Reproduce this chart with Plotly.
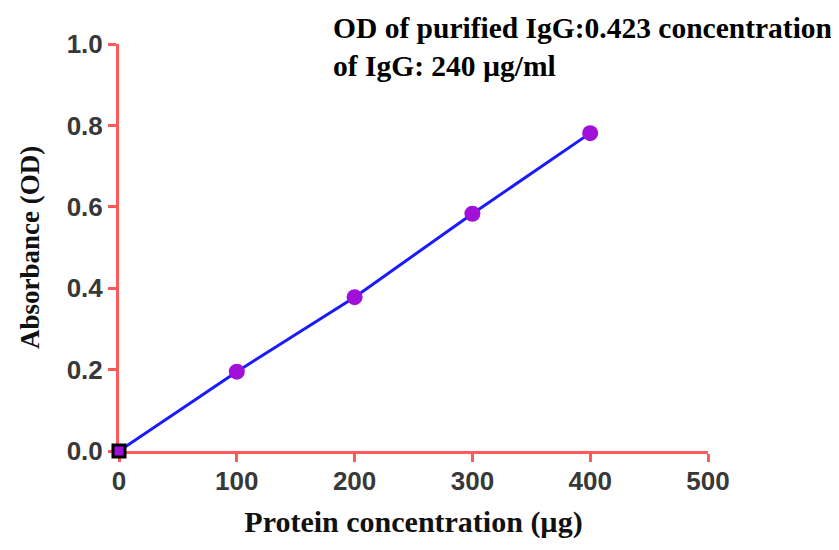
import plotly.graph_objects as go

protein_ug = [0, 100, 200, 300, 400]
absorbance = [0.0, 0.195, 0.378, 0.583, 0.781]
x_ticks = [0, 100, 200, 300, 400, 500]
y_ticks = [0.0, 0.2, 0.4, 0.6, 0.8, 1.0]
y_tick_text = ["0.0", "0.2", "0.4", "0.6", "0.8", "1.0"]

AXIS_RED = "#ff5a5a"
PLOT_W = 589
PLOT_H = 407
L, T = 111, 36

fig = go.Figure()
fig.add_trace(go.Scatter(
    x=protein_ug, y=absorbance, mode="lines",
    line=dict(color="#1a1aff", width=3),
    showlegend=False, cliponaxis=False,
))
fig.add_trace(go.Scatter(
    x=protein_ug[1:], y=absorbance[1:], mode="markers",
    marker=dict(color="#a010d8", size=16, line=dict(width=0)),
    showlegend=False, cliponaxis=False,
))
fig.add_trace(go.Scatter(
    x=protein_ug[:1], y=absorbance[:1], mode="markers",
    marker=dict(color="#a010d8", size=12, symbol="square",
                line=dict(color="black", width=3)),
    showlegend=False, cliponaxis=False,
))

fig.update_layout(
    width=839, height=550,
    margin=dict(l=L, r=839 - L - PLOT_W, t=T, b=550 - T - PLOT_H),
    paper_bgcolor="white", plot_bgcolor="white",
    font=dict(family="Liberation Sans, Arial", color="#333333"),
    annotations=[dict(
        xref="paper", yref="paper", x=(333 - 7 - 3 - L) / PLOT_W, y=1 + (T - 2) / PLOT_H,
        xanchor="left", yanchor="top", align="left", showarrow=False,
        text="<b>OD of purified IgG:0.423 concentration<br>of IgG: 240 µg/ml</b>",
        font=dict(family="Liberation Serif, Times New Roman", size=29.5, color="black"),
    )],
)
fig.update_xaxes(
    range=[0, 500], tickvals=x_ticks, ticktext=[str(v) for v in x_ticks],
    showgrid=False, zeroline=False, showline=True, linecolor=AXIS_RED, linewidth=3,
    ticks="outside", tickcolor=AXIS_RED, tickwidth=3, ticklen=8, layer="below traces",
    ticklabelstandoff=-3,
    tickfont=dict(family="Liberation Sans, Arial", size=26, color="#383838", weight="bold"),
    title=dict(text="<b>Protein concentration (µg)</b>",
               font=dict(family="Liberation Serif, Times New Roman", size=30, color="#111111"),
               standoff=16),
)
fig.update_yaxes(
    range=[0, 1.0], tickvals=y_ticks, ticktext=y_tick_text,
    showgrid=False, zeroline=False, showline=True, linecolor=AXIS_RED, linewidth=3,
    ticks="outside", tickcolor=AXIS_RED, tickwidth=3, ticklen=8, layer="below traces",
    tickfont=dict(family="Liberation Sans, Arial", size=26, color="#383838", weight="bold"),
    title=dict(text="<b>Absorbance (OD)</b>",
               font=dict(family="Liberation Serif, Times New Roman", size=27, color="#111111"),
               standoff=20),
)

fig.write_html("out.html")
